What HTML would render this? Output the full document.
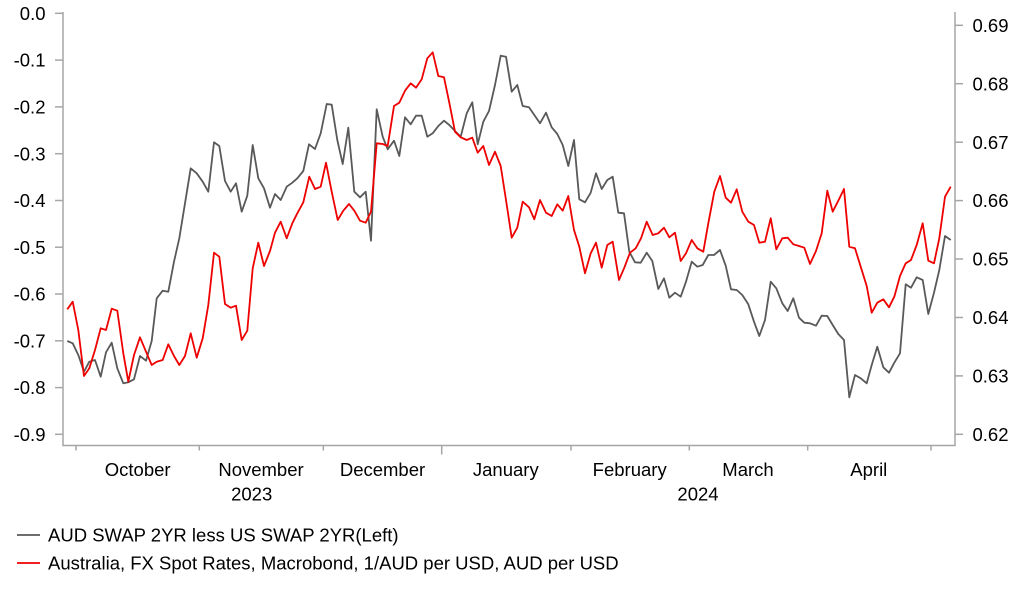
<!DOCTYPE html>
<html>
<head>
<meta charset="utf-8">
<style>
html,body{margin:0;padding:0;background:#fff;}
body{width:1022px;height:597px;overflow:hidden;}
svg{display:block;}
text{font-family:"Liberation Sans",Arial,sans-serif;font-size:18.5px;fill:#000;}
</style>
</head>
<body>
<svg width="1022" height="597" viewBox="0 0 1022 597" xmlns="http://www.w3.org/2000/svg">
<rect x="0" y="0" width="1022" height="597" fill="#fff"/>
<!-- axes -->
<g stroke="#a6a6a6" stroke-width="1.5" fill="none">
<line x1="63" y1="12" x2="63" y2="445.5"/>
<line x1="955" y1="12" x2="955" y2="445.5"/>
<line x1="62.3" y1="445.5" x2="955.7" y2="445.5"/>
<!-- left ticks -->
<line x1="55" y1="13.3" x2="63" y2="13.3"/>
<line x1="55" y1="60.1" x2="63" y2="60.1"/>
<line x1="55" y1="106.9" x2="63" y2="106.9"/>
<line x1="55" y1="153.7" x2="63" y2="153.7"/>
<line x1="55" y1="200.5" x2="63" y2="200.5"/>
<line x1="55" y1="247.2" x2="63" y2="247.2"/>
<line x1="55" y1="294" x2="63" y2="294"/>
<line x1="55" y1="340.8" x2="63" y2="340.8"/>
<line x1="55" y1="387.6" x2="63" y2="387.6"/>
<line x1="55" y1="434.3" x2="63" y2="434.3"/>
<!-- right ticks -->
<line x1="955" y1="25.3" x2="963" y2="25.3"/>
<line x1="955" y1="83.7" x2="963" y2="83.7"/>
<line x1="955" y1="142.2" x2="963" y2="142.2"/>
<line x1="955" y1="200.6" x2="963" y2="200.6"/>
<line x1="955" y1="259" x2="963" y2="259"/>
<line x1="955" y1="317.5" x2="963" y2="317.5"/>
<line x1="955" y1="375.9" x2="963" y2="375.9"/>
<line x1="955" y1="434.3" x2="963" y2="434.3"/>
<!-- x ticks -->
<line x1="76" y1="445.5" x2="76" y2="450.5"/>
<line x1="199.3" y1="445.5" x2="199.3" y2="450.5"/>
<line x1="323.3" y1="445.5" x2="323.3" y2="450.5"/>
<line x1="441.7" y1="445.5" x2="441.7" y2="454.5"/>
<line x1="571" y1="445.5" x2="571" y2="450.5"/>
<line x1="689.3" y1="445.5" x2="689.3" y2="450.5"/>
<line x1="807.7" y1="445.5" x2="807.7" y2="450.5"/>
<line x1="931" y1="445.5" x2="931" y2="450.5"/>
</g>
<!-- left labels -->
<g text-anchor="end">
<text x="45.5" y="19.9">0.0</text>
<text x="45.5" y="66.7">-0.1</text>
<text x="45.5" y="113.5">-0.2</text>
<text x="45.5" y="160.3">-0.3</text>
<text x="45.5" y="207.1">-0.4</text>
<text x="45.5" y="253.8">-0.5</text>
<text x="45.5" y="300.6">-0.6</text>
<text x="45.5" y="347.4">-0.7</text>
<text x="45.5" y="394.2">-0.8</text>
<text x="45.5" y="440.9">-0.9</text>
</g>
<!-- right labels -->
<g text-anchor="start">
<text x="972.5" y="31.9">0.69</text>
<text x="972.5" y="90.3">0.68</text>
<text x="972.5" y="148.8">0.67</text>
<text x="972.5" y="207.2">0.66</text>
<text x="972.5" y="265.6">0.65</text>
<text x="972.5" y="324.1">0.64</text>
<text x="972.5" y="382.5">0.63</text>
<text x="972.5" y="440.9">0.62</text>
</g>
<!-- x labels -->
<g text-anchor="middle">
<text x="137.7" y="476">October</text>
<text x="261" y="476">November</text>
<text x="382.5" y="476">December</text>
<text x="505.8" y="476">January</text>
<text x="629.7" y="476">February</text>
<text x="748" y="476">March</text>
<text x="868.8" y="476">April</text>
<text x="251.7" y="500.5">2023</text>
<text x="698" y="500.5">2024</text>
</g>
<!-- series -->
<polyline fill="none" stroke="#595959" stroke-width="1.8" stroke-linejoin="round" points="67.3,341 72.7,343.3 78.3,355 84,371.7 89.3,361.7 95,360 100.7,376.7 106,352.3 111.7,342.7 117.3,368.3 123.3,383.3 128.3,382.3 134,379.3 140,356 146,360.7 151.7,341 156.7,298.3 162.7,290.7 168.3,291.7 174,261.7 179.3,238.3 185,203.3 190.7,168.3 196.7,173.3 202.7,181.7 208.3,191.7 214,142.3 219.3,146 225,181 230.7,191.7 236,183.3 241.7,211.7 247.3,195.7 252.7,145 258.3,178.3 264,188.3 270,207.7 275,194 280.7,200 286.7,186.7 292.3,182.7 297.3,178.3 303.3,171 309,144.3 315,149 320.7,133.3 326.7,104 331.7,104.7 337.3,140 342.7,164 348.3,127.7 354.3,191.7 360,197.3 365.7,191.7 371,240.7 376.7,109.3 382.7,136.7 387.7,149.3 394,140.7 399.3,156 405,117.3 410.7,124.3 416,115.7 421.7,115.7 427.3,136.7 432.7,133.3 438.3,126 444,120.7 449.3,125 455,131 460.7,136.7 466.7,113.3 472.3,102.3 477.7,144.3 483.3,121.7 489,111 495,85 500.7,55.7 506,56.7 511.7,91.7 517.3,85 522.7,106 529,107.3 534.3,115 540,123.3 546,112.7 551.7,127.3 557.3,134 562.7,145 568.3,166 574,140 579.3,199.3 585,202.3 590.7,192.7 596,173.3 601.7,189 607.3,180 612.7,176.7 618.3,212.7 624,213.3 629.3,251.7 635,262.3 640.7,262.7 646.7,252.7 652.3,261 658.3,289 664,278.3 669.3,297.7 675,292.7 680.7,296.7 686,281.7 691.7,261.7 697.3,266.7 702.7,265 708.3,255 714,255 720,250 725.7,265.7 731,289.3 736.7,290 742.3,295 748.3,304.3 754,321.7 759.3,336 765,320 770.7,281.7 776.3,288.3 782.3,303.3 787.7,311 793.3,298.3 799,317.7 804.3,322.7 810,323.3 816,325.7 821.7,315.7 827.3,316 832.7,325 838.3,334 844,340 849.3,397.3 855,375 860.7,378.3 866.7,383.3 871.7,365 877.3,346.7 883.3,367.3 889,372.7 894.3,362.7 900,353.3 905.7,284.3 911,287.7 916.7,277.3 922.7,280 928.3,314 934,292.7 939.3,270 945,236 950.7,240"/>
<polyline fill="none" stroke="#ee0000" stroke-width="1.8" stroke-linejoin="round" points="67.3,309.3 72.7,301.7 78.3,330 84,376 89.3,368.3 95,350 100.7,328.3 106,330 111.7,308.7 117.3,310.7 123.3,353.3 128.3,381.7 134,355 140,337.3 146,351.7 151.7,365 156.7,361.7 162.7,360 168.3,344.3 174,356 179.3,365 185,356 190.7,333.3 196.7,357.7 202.7,338.3 208.3,305 214,252.7 219.3,256.7 225,304 230.7,307.7 236,305.7 241.7,340 247.3,330.7 252.7,268.3 258.3,242.7 264,266 270,251 275,232.7 280.7,221.7 286.7,238.3 292.3,223.3 297.3,213.3 303.3,202.3 309.3,176.7 315,189 320.7,186.7 326,162.7 331.7,191.7 337.7,220 343.3,210.7 349,204 354.3,210.7 360,220.7 365.7,222.7 371,211.7 376.7,143.3 382.7,144 387.7,146 394,106 399.3,102.7 405,90.7 410.7,83.3 416,87.7 421.7,79.3 427.3,58.3 432.7,52.3 438.3,76 444,77.3 449.3,102.7 455,131.7 460.7,137.3 466.7,140 472.3,137.7 477.7,152.7 483.3,146 489,165 495,151.7 500.7,166 506,200 511.7,237.7 517.3,227.7 522.7,201.7 529,207.3 534.3,219.3 540,200 546,212.7 551.7,216 557.3,204.3 562.7,210.7 568.3,196 574,230 579.3,246.7 585,273.3 590.7,253.3 596,242.7 601.7,267.7 607.3,245 612.7,241.7 619,280 624.3,267.7 630,252.7 635.7,248.3 641,238.3 646.7,221.7 652.7,235 658.3,233.3 664,227.7 669.3,237.3 675,232.7 680.7,261 686,253.3 691.7,240 697.3,248.3 703.3,251.7 708.3,223.3 714.3,191.7 720,176 725.7,197.7 731,202.7 736.7,189.3 742.3,211.7 748.3,221.7 754,225 759.3,242.7 765,241.7 770.7,218.3 776.3,249.3 782.3,238.3 787.7,237.7 793.3,244.3 799,246 804.3,247.7 810,264 816,251 821.7,233.3 827.3,190.7 832.7,211.7 838.3,200.7 844,189 849.3,246.7 855,248.3 860.7,266.7 866.7,286 871.7,312.7 877.3,302.7 883.3,299.3 889,307.3 894.3,296.7 900,276 905.7,263.3 911,260 916.7,245 922.7,223.3 928.3,260.7 934,263.3 939.3,238.3 945,196.7 950.7,186.7"/>
<!-- legend -->
<line x1="17" y1="535" x2="40" y2="535" stroke="#595959" stroke-width="1.8"/>
<text x="48" y="541.6">AUD SWAP 2YR less US SWAP 2YR(Left)</text>
<line x1="17" y1="563" x2="40" y2="563" stroke="#ee0000" stroke-width="1.8"/>
<text x="48" y="569.6">Australia, FX Spot Rates, Macrobond, 1/AUD per USD, AUD per USD</text>
</svg>
</body>
</html>
